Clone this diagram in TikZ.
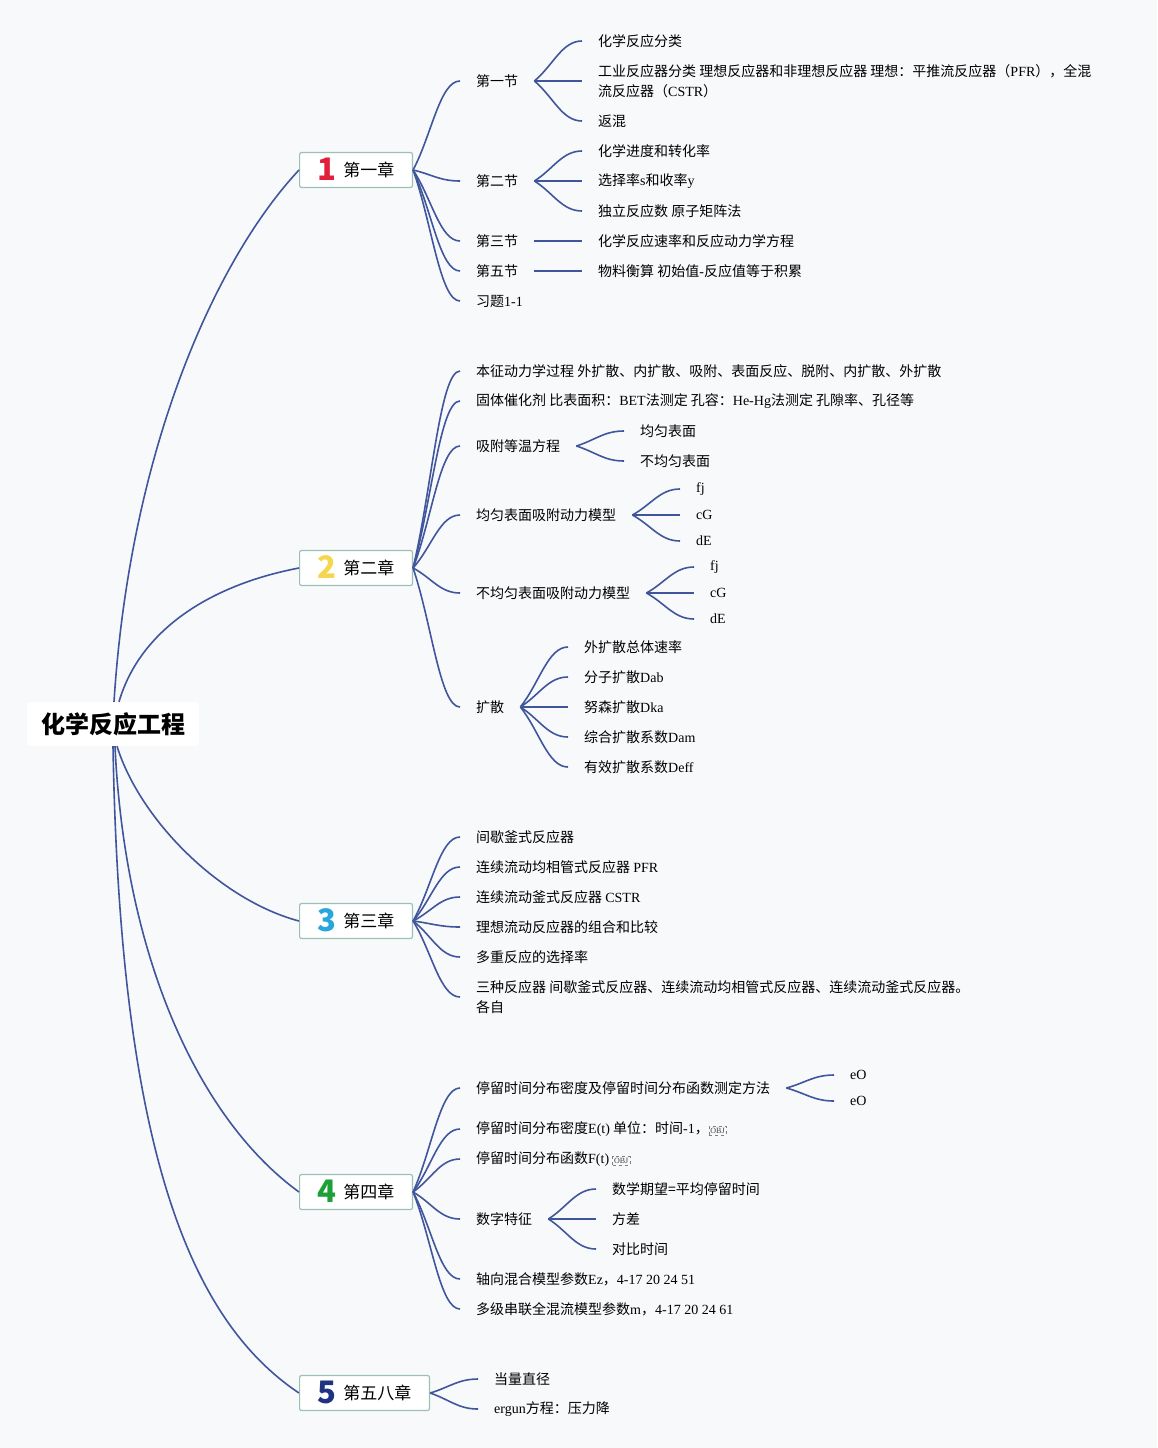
\documentclass[tikz,border=0pt]{standalone}
\usepackage{fontspec}
\setmainfont{Noto Sans CJK SC}
\newfontfamily\lat{Liberation Serif}
\usetikzlibrary{calc}

\definecolor{bgc}{RGB}{248,249,251}
\definecolor{linec}{RGB}{64,86,156}
\definecolor{boxc}{RGB}{156,192,182}
\definecolor{numa}{RGB}{226,30,58}
\definecolor{numb}{RGB}{246,214,78}
\definecolor{numc}{RGB}{40,166,222}
\definecolor{numd}{RGB}{30,160,56}
\definecolor{nume}{RGB}{30,52,130}

\newcommand{\eng}[1]{{\lat #1}}
\newcommand{\chnum}[2]{\raisebox{-4pt}{\color{#1}\fontsize{31}{31}\selectfont\bfseries #2}\hspace{7pt}}
\newcommand{\objmark}{\tikz[baseline=(ob.base)]\node[draw=gray,dashed,line width=0.4pt,inner sep=1.5pt,text=darkgray,font=\lat\fontsize{8}{8}\selectfont] (ob) {OBJ};}

\begin{document}
\begin{tikzpicture}[x=1pt,y=-1pt,
  rootbox/.style={fill=white, rounded corners=3pt, minimum width=172pt, minimum height=44pt, font=\fontsize{24}{24}\selectfont\bfseries},
  chap/.style={draw=boxc, fill=white, line width=1.2pt, rounded corners=2pt, anchor=west, minimum height=35pt, inner xsep=18pt, inner ysep=2pt, text height=21pt, text depth=8pt, font=\fontsize{17}{17}\selectfont},
  leaf/.style={anchor=west, inner xsep=16pt, inner ysep=3pt, align=left, font=\fontsize{14}{20}\selectfont},
  trunk/.style={draw=linec, line width=1.6pt},
  branch/.style={draw=linec, line width=1.6pt, to path={.. controls ($(\tikztostart)!0.4!(\tikztotarget)$) and ($(\tikztotarget)-(20,0)$) .. (\tikztotarget)}}]

  \fill[bgc] (0,0) rectangle (1157,1448);
  \useasboundingbox (0,0) rectangle (1157,1448);

  \node[rootbox] (root) at (113,724) {化学反应工程};

  \node[chap] (c1) at (299,170) {\chnum{numa}{1}第一章};
  \node[chap] (c2) at (299,568) {\chnum{numb}{2}第二章};
  \node[chap] (c3) at (299,921) {\chnum{numc}{3}第三章};
  \node[chap] (c4) at (299,1192) {\chnum{numd}{4}第四章};
  \node[chap] (c5) at (299,1393) {\chnum{nume}{5}第五八章};

  % chapter 1
  \node[leaf] (s1) at (460,81) {第一节};
  \node[leaf] (s1a) at (582,41) {化学反应分类};
  \node[leaf] (s1b) at (582,81) {工业反应器分类 理想反应器和非理想反应器 理想：平推流反应器（\eng{PFR}），全混\\流反应器（\eng{CSTR}）};
  \node[leaf] (s1c) at (582,121) {返混};
  \node[leaf] (s2) at (460,181) {第二节};
  \node[leaf] (s2a) at (582,151) {化学进度和转化率};
  \node[leaf] (s2b) at (582,181) {选择率\eng{s}和收率\eng{y}};
  \node[leaf] (s2c) at (582,211) {独立反应数 原子矩阵法};
  \node[leaf] (s3) at (460,241) {第三节};
  \node[leaf] (s3a) at (582,241) {化学反应速率和反应动力学方程};
  \node[leaf] (s5) at (460,271) {第五节};
  \node[leaf] (s5a) at (582,271) {物料衡算 初始值\eng{-}反应值等于积累};
  \node[leaf] (s6) at (460,301) {习题\eng{1-1}};

  % chapter 2
  \node[leaf] (t1) at (460,371) {本征动力学过程 外扩散、内扩散、吸附、表面反应、脱附、内扩散、外扩散};
  \node[leaf] (t2) at (460,401) {固体催化剂 比表面积：\eng{BET}法测定 孔容：\eng{He-Hg}法测定 孔隙率、孔径等};
  \node[leaf] (t3) at (460,446) {吸附等温方程};
  \node[leaf] (t3a) at (624,431) {均匀表面};
  \node[leaf] (t3b) at (624,461) {不均匀表面};
  \node[leaf] (t4) at (460,515) {均匀表面吸附动力模型};
  \node[leaf] (t4a) at (680,489) {\eng{fj}};
  \node[leaf] (t4b) at (680,515) {\eng{cG}};
  \node[leaf] (t4c) at (680,541) {\eng{dE}};
  \node[leaf] (t5) at (460,593) {不均匀表面吸附动力模型};
  \node[leaf] (t5a) at (694,567) {\eng{fj}};
  \node[leaf] (t5b) at (694,593) {\eng{cG}};
  \node[leaf] (t5c) at (694,619) {\eng{dE}};
  \node[leaf] (t6) at (460,707) {扩散};
  \node[leaf] (t6a) at (568,647) {外扩散总体速率};
  \node[leaf] (t6b) at (568,677) {分子扩散\eng{Dab}};
  \node[leaf] (t6c) at (568,707) {努森扩散\eng{Dka}};
  \node[leaf] (t6d) at (568,737) {综合扩散系数\eng{Dam}};
  \node[leaf] (t6e) at (568,767) {有效扩散系数\eng{Deff}};

  % chapter 3
  \node[leaf] (u1) at (460,837) {间歇釜式反应器};
  \node[leaf] (u2) at (460,867) {连续流动均相管式反应器 \eng{PFR}};
  \node[leaf] (u3) at (460,897) {连续流动釜式反应器 \eng{CSTR}};
  \node[leaf] (u4) at (460,927) {理想流动反应器的组合和比较};
  \node[leaf] (u5) at (460,957) {多重反应的选择率};
  \node[leaf] (u6) at (460,997) {三种反应器 间歇釜式反应器、连续流动均相管式反应器、连续流动釜式反应器。\\各自};

  % chapter 4
  \node[leaf] (v1) at (460,1088) {停留时间分布密度及停留时间分布函数测定方法};
  \node[leaf] (v1a) at (834,1075) {\eng{eO}};
  \node[leaf] (v1b) at (834,1101) {\eng{eO}};
  \node[leaf] (v2) at (460,1129) {停留时间分布密度\eng{E(t)} 单位：时间\eng{-1}，\objmark};
  \node[leaf] (v3) at (460,1159) {停留时间分布函数\eng{F(t)} \objmark};
  \node[leaf] (v4) at (460,1219) {数字特征};
  \node[leaf] (v4a) at (596,1189) {数学期望=平均停留时间};
  \node[leaf] (v4b) at (596,1219) {方差};
  \node[leaf] (v4c) at (596,1249) {对比时间};
  \node[leaf] (v5) at (460,1279) {轴向混合模型参数\eng{Ez}，\eng{4-17 20 24 51}};
  \node[leaf] (v6) at (460,1309) {多级串联全混流模型参数\eng{m}，\eng{4-17 20 24 61}};

  % chapter 5
  \node[leaf] (w1) at (478,1379) {当量直径};
  \node[leaf] (w2) at (478,1409) {\eng{ergun}方程：压力降};

  % root to chapters
  \draw[trunk] ([xshift=1pt]root.north) .. controls (130,450) and (215,260) .. (c1.west);
  \draw[trunk] ([xshift=6pt]root.north) .. controls (140,630) and (210,585) .. (c2.west);
  \draw[trunk] ([xshift=4pt]root.south) .. controls (140,820) and (220,900) .. (c3.west);
  \draw[trunk] ([xshift=2pt]root.south) .. controls (125,960) and (200,1120) .. (c4.west);
  \draw[trunk] ([xshift=0pt]root.south) .. controls (120,1150) and (190,1320) .. (c5.west);

  % branches
  \foreach \a/\b in {c1/s1, c1/s2, c1/s3, c1/s5, c1/s6, s1/s1a, s1/s1b, s1/s1c,
      s2/s2a, s2/s2b, s2/s2c, s3/s3a, s5/s5a,
      c2/t1, c2/t2, c2/t3, c2/t4, c2/t5, c2/t6, t3/t3a, t3/t3b,
      t4/t4a, t4/t4b, t4/t4c, t5/t5a, t5/t5b, t5/t5c,
      t6/t6a, t6/t6b, t6/t6c, t6/t6d, t6/t6e,
      c3/u1, c3/u2, c3/u3, c3/u4, c3/u5, c3/u6,
      c4/v1, c4/v2, c4/v3, c4/v4, c4/v5, c4/v6, v1/v1a, v1/v1b,
      v4/v4a, v4/v4b, v4/v4c, c5/w1, c5/w2}
    \draw[branch] (\a.east) to (\b.west);
\end{tikzpicture}
\end{document}
